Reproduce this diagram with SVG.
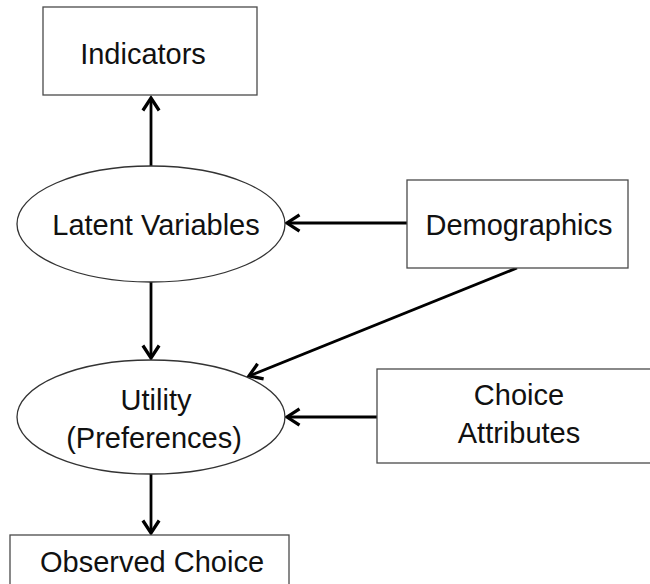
<svg xmlns="http://www.w3.org/2000/svg" width="650" height="584" viewBox="0 0 650 584">
  <defs>
    <marker id="arrow" markerUnits="userSpaceOnUse" markerWidth="20" markerHeight="20" viewBox="-12 -8 14 16" refX="0" refY="0" orient="auto">
      <path d="M -10 -6.5 L 0 0 L -10 6.5" fill="none" stroke="#000" stroke-width="2.6" stroke-linejoin="miter"/>
    </marker>
  </defs>
  <style>
    .box { fill: #fff; stroke: #4a4a4a; stroke-width: 1.3; }
    .oval { fill: #fff; stroke: #333; stroke-width: 1.3; }
    .label { font-family: "Liberation Sans", Arial, sans-serif; font-size: 29px; fill: #111; text-anchor: middle; }
    .edge { stroke: #000; stroke-width: 2.8; fill: none; marker-end: url(#arrow); }
  </style>
  <rect width="650" height="584" fill="#fff"/>

  <g id="connectors">
    <line class="edge" x1="151" y1="168" x2="151" y2="98"/>
    <line class="edge" x1="407" y1="223" x2="287" y2="223"/>
    <line class="edge" x1="151" y1="281" x2="151" y2="358"/>
    <line class="edge" x1="517" y1="268" x2="249" y2="376"/>
    <line class="edge" x1="377" y1="417" x2="287" y2="417"/>
    <line class="edge" x1="151" y1="474" x2="151" y2="533"/>
  </g>

  <g id="indicators">
    <rect class="box" x="43" y="7" width="214" height="88"/>
    <text class="label" x="143" y="64">Indicators</text>
  </g>

  <g id="latent-variables">
    <ellipse class="oval" cx="151" cy="224" rx="134" ry="58"/>
    <text class="label" x="156" y="235">Latent Variables</text>
  </g>

  <g id="demographics">
    <rect class="box" x="407" y="180" width="221" height="88"/>
    <text class="label" x="519" y="235">Demographics</text>
  </g>

  <g id="utility">
    <ellipse class="oval" cx="151" cy="417" rx="134" ry="57"/>
    <text class="label" x="156" y="410">Utility</text>
    <text class="label" x="154" y="448">(Preferences)</text>
  </g>

  <g id="choice-attributes">
    <rect class="box" x="377" y="369" width="290" height="94"/>
    <text class="label" x="519" y="405">Choice</text>
    <text class="label" x="519" y="443">Attributes</text>
  </g>

  <g id="observed-choice">
    <rect class="box" x="10" y="535" width="279" height="70"/>
    <text class="label" x="152" y="572">Observed Choice</text>
  </g>
</svg>
